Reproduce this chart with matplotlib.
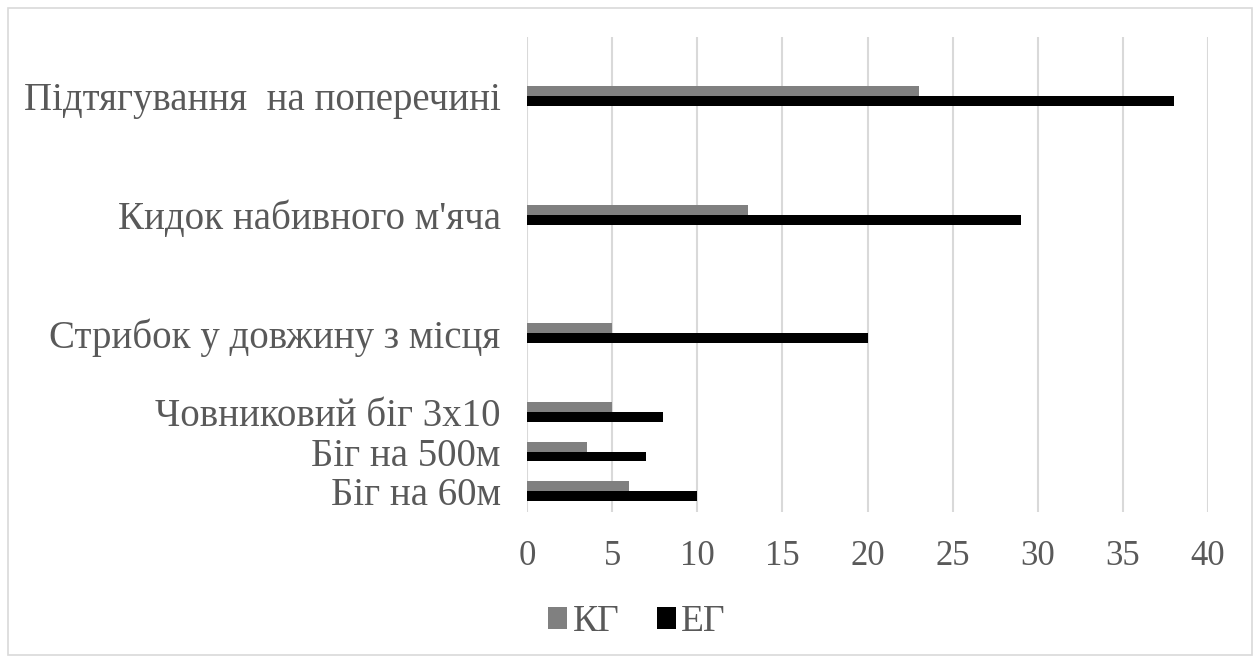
import matplotlib.pyplot as plt
import matplotlib.patches as mpatches

plt.rcParams["font.family"] = ["Liberation Serif", "DejaVu Serif"]

categories = [
    "Біг на 60м",
    "Біг на 500м",
    "Човниковий біг 3x10",
    "Стрибок у довжину з місця",
    "Кидок набивного м'яча",
    "Підтягування  на поперечині",
]
kg_values = [6, 3.5, 5, 5, 13, 23]
eg_values = [10, 7, 8, 20, 29, 38]
series_names = ["КГ", "ЕГ"]
x_ticks = [0, 5, 10, 15, 20, 25, 30, 35, 40]

# vertical slots for each category (groups are not evenly spaced)
slots = [0, 1, 2, 4, 7, 10]
bar_h = 0.25

fig = plt.figure(figsize=(12.55, 6.59), dpi=100)
ax = fig.add_axes([527 / 1255, 1 - 512 / 659, (1208 - 527) / 1255, (512 - 37) / 659])

ax.barh([s + bar_h / 2 for s in slots], kg_values, height=bar_h,
        color="#808080", label=series_names[0], zorder=3)
ax.barh([s - bar_h / 2 for s in slots], eg_values, height=bar_h,
        color="#000000", label=series_names[1], zorder=3)

ax.set_xlim(0, 40)
ax.set_ylim(-0.53, 11.5)
ax.set_xticks(x_ticks)
ax.set_yticks(slots)
ax.set_yticklabels(categories)
ax.xaxis.grid(True, color="#d9d9d9", linewidth=1.5, zorder=0)
ax.set_axisbelow(True)
for sp in ax.spines.values():
    sp.set_visible(False)
ax.tick_params(axis="both", length=0, colors="#595959")
ax.tick_params(axis="y", pad=19, labelsize=28)
ax.tick_params(axis="x", pad=20, labelsize=25)

ax.legend(loc="center", bbox_to_anchor=((637 - 527) / 681, (512 - 622) / 475),
          ncol=2, frameon=False, fontsize=27, handlelength=0.5, handleheight=0.5,
          handletextpad=0.15, columnspacing=1.0, labelcolor="#595959")

fig.add_artist(mpatches.Rectangle((8 / 1255, 4 / 659), 1244 / 1255, 647 / 659,
                                  transform=fig.transFigure, fill=False,
                                  edgecolor="#d9d9d9", linewidth=1.2))

fig.savefig("out.png", dpi=100, facecolor="white")
